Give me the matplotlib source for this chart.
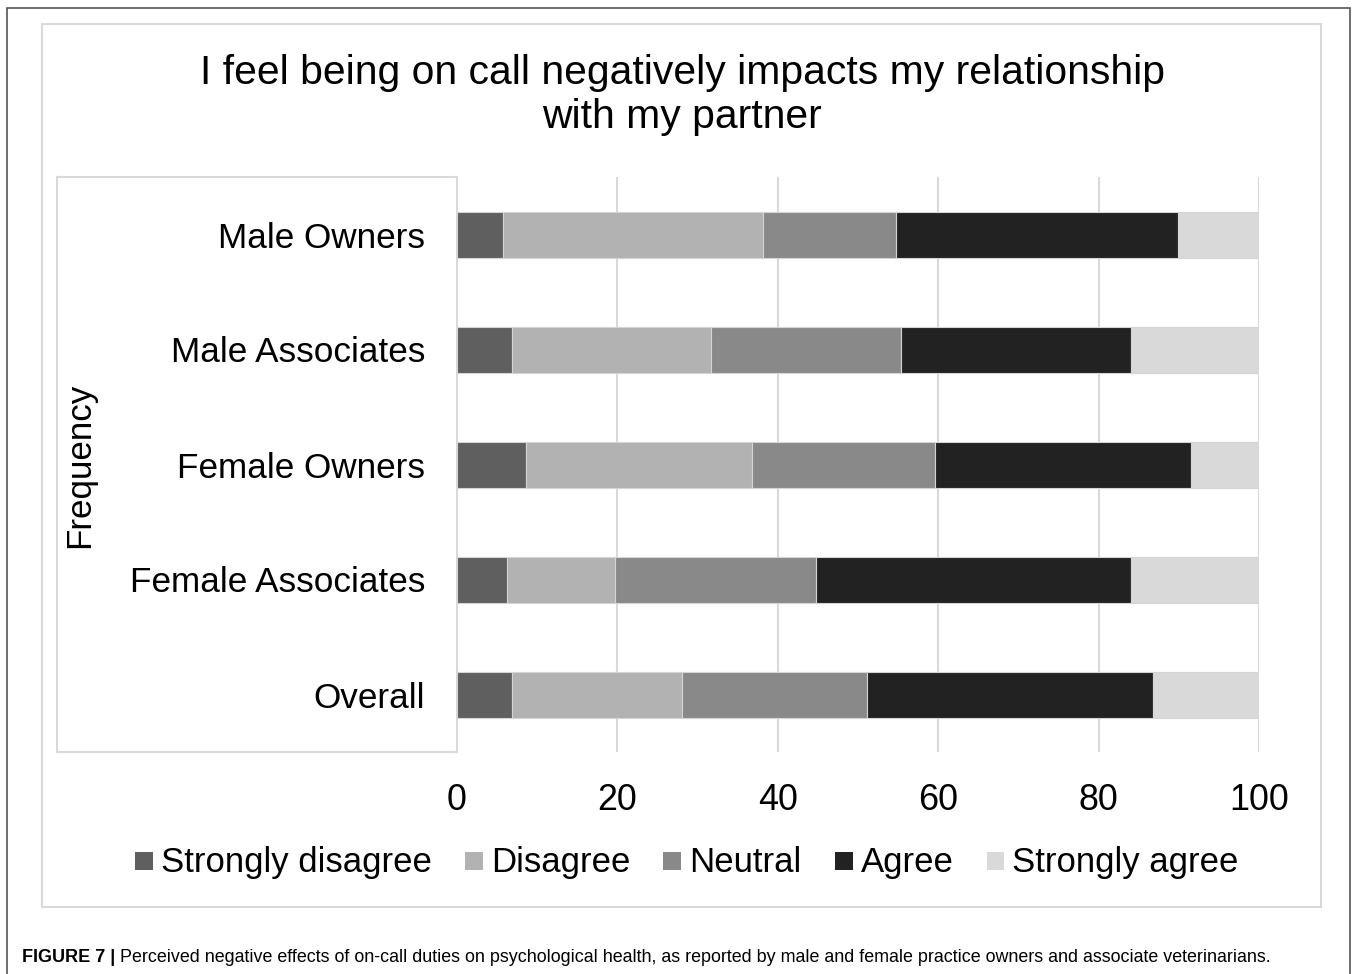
import matplotlib.pyplot as plt
import numpy as np
from matplotlib.patches import Rectangle
from matplotlib.lines import Line2D

plt.rcParams['font.family'] = ['Liberation Sans', 'DejaVu Sans']

# survey answers, percent of respondents per group
groups = ['Male Owners', 'Male Associates', 'Female Owners',
          'Female Associates', 'Overall']
answers = ['Strongly disagree', 'Disagree', 'Neutral', 'Agree',
           'Strongly agree']
strongly_disagree = [5.7, 6.9, 8.6, 6.2, 6.9]
disagree = [32.4, 24.8, 28.2, 13.5, 21.1]
neutral = [16.6, 23.7, 22.8, 25.1, 23.1]
agree = [35.2, 28.7, 31.9, 39.3, 35.7]
strongly_agree = [10.1, 15.9, 8.5, 15.9, 13.2]
xticks = [0, 20, 40, 60, 80, 100]

series = [strongly_disagree, disagree, neutral, agree, strongly_agree]
colors = ['#5f5f5f', '#b2b2b2', '#898989', '#222222', '#d9d9d9']

W, H = 1358, 974
fig = plt.figure(figsize=(W / 100, H / 100), dpi=100)

# outer frame and chart-area border
fig.patches.append(Rectangle((7 / W, 1 - 1000 / H), 1343 / W, 992 / H,
                             transform=fig.transFigure, fill=False,
                             edgecolor='#555555', linewidth=1.2))
fig.patches.append(Rectangle((42 / W, 1 - 907 / H), 1279 / W, 883 / H,
                             transform=fig.transFigure, fill=False,
                             edgecolor='#d9d9d9', linewidth=1.5))

ax = fig.add_axes([457 / W, 1 - 752 / H, 802 / W, 575 / H])

y = np.arange(len(groups))
left = np.zeros(len(groups))
for vals, col, name in zip(series, colors, answers):
    ax.barh(y, vals, left=left, height=0.4, color=col, edgecolor='#d4d4d4',
            linewidth=0.8, label=name, zorder=3)
    left += np.array(vals)

ax.set_xlim(0, 100)
ax.set_ylim(len(groups) - 0.5, -0.5)
ax.set_xticks(xticks)
ax.set_xticklabels([str(t) for t in xticks], fontsize=25.8)
ax.set_yticks(y)
ax.set_yticklabels(groups, fontsize=25.3)
ax.tick_params(axis='both', length=0, colors='black')
ax.tick_params(axis='x', pad=22)
ax.tick_params(axis='y', pad=23)
ax.grid(axis='x', color='#d9d9d9', linewidth=1.5, zorder=0)
for s in ['top', 'right', 'bottom']:
    ax.spines[s].set_visible(False)
ax.spines['left'].set_color('#d9d9d9')
ax.spines['left'].set_linewidth(1.5)

# category label box lines
for yy in [177, 752]:
    fig.add_artist(Line2D([57 / W, 457 / W], [1 - yy / H, 1 - yy / H],
                          color='#d9d9d9', linewidth=1.5))
fig.add_artist(Line2D([57 / W, 57 / W], [1 - 177 / H, 1 - 752 / H],
                      color='#d9d9d9', linewidth=1.5))

fig.text(80 / W, 1 - 465 / H, 'Frequency', rotation=90, fontsize=25.2,
         ha='center', va='center')

fig.text(682 / W, 1 - 95 / H,
         'I feel being on call negatively impacts my relationship\nwith my partner',
         fontsize=29.4, ha='center', va='center', linespacing=1.22)

# legend drawn by hand so all labels share one baseline
renderer = fig.canvas.get_renderer()
sq = 18
gap_txt = 8
gap_item = 33
leg_texts = [fig.text(0, 0, a, fontsize=25, va='baseline') for a in answers]
widths = [t.get_window_extent(renderer).width for t in leg_texts]
total = sum(sq + gap_txt + w for w in widths) + gap_item * (len(answers) - 1)
x = 687 - total / 2
for t, w, c in zip(leg_texts, widths, colors):
    fig.patches.append(Rectangle((x / W, 1 - (861 + sq / 2) / H), sq / W, sq / H,
                                 transform=fig.transFigure, facecolor=c,
                                 edgecolor='none'))
    t.set_position(((x + sq + gap_txt) / W, 1 - 872 / H))
    x += sq + gap_txt + w + gap_item

cap = fig.text(22 / W, 1 - 957 / H, 'FIGURE 7 |', fontsize=13,
               fontweight='bold', ha='left', va='center')
cw = cap.get_window_extent(renderer).width
fig.text((22 + cw + 5) / W, 1 - 957 / H,
         'Perceived negative effects of on-call duties on psychological health, '
         'as reported by male and female practice owners and associate veterinarians.',
         fontsize=12.9, ha='left', va='center')

fig.savefig('out.png', dpi=100)
